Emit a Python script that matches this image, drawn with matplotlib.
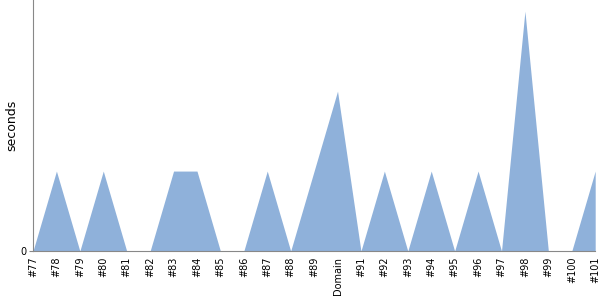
import matplotlib; matplotlib.use('Agg'); import matplotlib.pyplot as plt
import numpy as np

labels = ['#77','#78','#79','#80','#81','#82','#83','#84','#85','#86','#87','#88','#89',
          'Domain','#91','#92','#93','#94','#95','#96','#97','#98','#99','#100','#101']
seconds = [0,1,0,1,0,0,1,1,0,0,1,0,1,2,0,1,0,1,0,1,0,3,0,0,1]

fig = plt.figure(figsize=(6,3), dpi=100)
ax = fig.add_axes([0.055, 0.1633, 0.937, 0.8367])
x = np.arange(len(labels))
ax.fill_between(x, seconds, 0, color='#8fb1da', linewidth=0)
ax.set_xlim(0, len(labels)-1)
ax.set_ylim(0, 3.14)
ax.set_xticks(x)
ax.set_xticklabels(labels, rotation=90, fontsize=7)
ax.tick_params(axis='x', length=0, pad=4)
ax.set_yticks([0])
ax.tick_params(axis='y', labelsize=7, length=3, color='#888888', pad=2)
ax.set_ylabel('seconds', fontsize=9)
ax.yaxis.set_label_coords(-0.027, 0.5)
for s in ['top','right']: ax.spines[s].set_visible(False)
for s in ['left','bottom']: ax.spines[s].set_color('#888888')
fig.savefig('out.png', dpi=100)
